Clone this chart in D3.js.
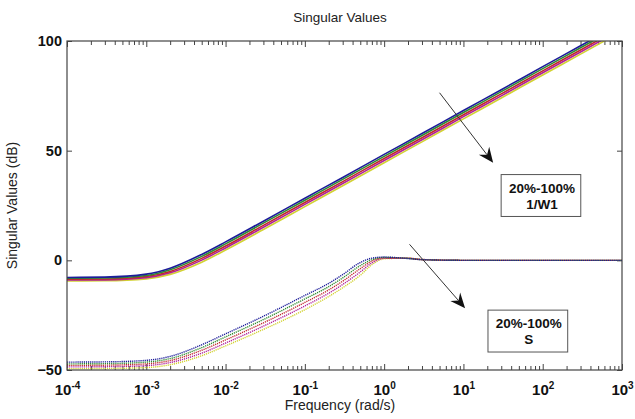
<!DOCTYPE html>
<html>
<head>
<meta charset="utf-8">
<script src="https://cdn.jsdelivr.net/npm/d3@7"></script>
<style>
  body { margin: 0; background: #fff; }
  svg { font-family: Arial, "Liberation Sans", sans-serif; }
</style>
</head>
<body>
<div id="chart"></div>
<script>
var freqW = [1e-4, 3e-4, 1e-3, 2e-3, 5e-3, 1e-2, 3e-2, 0.1, 0.3, 1, 3, 10, 30, 100, 300, 1000];
var freqS = [1e-4, 3e-4, 1e-3, 2e-3, 5e-3, 1e-2, 3e-2, 0.1, 0.2, 0.3, 0.5, 0.7, 1, 2, 3, 10, 100, 1000];

// 1/W1 curves (dB), 20% .. 100%
var w1Blue    = [-7.8, -7.65, -6.3, -3.6, 2.7, 8.4, 17.85, 28.3, 37.8, 48.3, 57.8, 68.3, 77.8, 88.3, 97.8, 108.3];
var w1Green   = [-8.2, -8.05, -6.9, -4.3, 1.8, 7.5, 16.95, 27.4, 36.9, 47.4, 56.9, 67.4, 76.9, 87.4, 96.9, 107.4];
var w1Red     = [-8.6, -8.5, -7.4, -5.05, 0.9, 6.5, 15.95, 26.4, 35.9, 46.4, 55.9, 66.4, 75.9, 86.4, 95.9, 106.4];
var w1Magenta = [-9.0, -8.9, -7.9, -5.7, 0.1, 5.65, 15.05, 25.5, 35.0, 45.5, 55.0, 65.5, 75.0, 85.5, 95.0, 105.5];
var w1Yellow  = [-9.4, -9.3, -8.45, -6.4, -0.85, 4.7, 14.05, 24.5, 34.0, 44.5, 54.0, 64.5, 74.0, 84.5, 94.0, 104.5];

// S curves (dB), 20% .. 100%
var sBlue    = [-46.4, -46.3, -45.6, -43.8, -38.5, -33.5, -25.5, -16.0, -10.5, -6.5, -1.0, 1.0, 1.5, 0.8, 0.3, 0, 0, 0];
var sGreen   = [-47.2, -47.1, -46.4, -44.8, -39.8, -34.9, -27.0, -17.6, -12.0, -8.0, -2.4, 0.3, 1.3, 0.9, 0.3, 0, 0, 0];
var sRed     = [-47.9, -47.8, -47.2, -45.7, -41.0, -36.3, -28.5, -19.2, -13.5, -9.5, -3.8, -0.4, 1.1, 0.9, 0.3, 0, 0, 0];
var sMagenta = [-48.6, -48.5, -48.0, -46.6, -42.3, -37.7, -30.0, -20.8, -15.0, -11.0, -5.3, -1.2, 0.9, 1.0, 0.4, 0, 0, 0];
var sYellow  = [-49.4, -49.3, -48.9, -47.6, -43.5, -39.0, -31.5, -22.5, -16.5, -12.5, -6.8, -2.0, 0.7, 1.0, 0.4, 0, 0, 0];

var lineColors = ["#1c1c9a", "#2e8b2e", "#c0282c", "#b0209a", "#d2d232"];

var xDecades = [1e-4, 1e-3, 1e-2, 1e-1, 1, 10, 100, 1000];
var yTicks = [-50, 0, 50, 100];

// annotations in data units: [freq, dB]
var arrowStarts = [[5.0, 76.4], [2.09, 7.3]];
var arrowEnds   = [[23.7, 44.5], [10.5, -21.8]];
var boxCorners  = [[[29.9, 39.1], [302, 20]], [[20.4, -22.7], [206.6, -41.8]]];
var boxLabels   = [["20%-100%", "1/W1"], ["20%-100%", "S"]];

var width = 635, height = 419;
var margin = {left: 67, right: 13, top: 41, bottom: 49};

var svg = d3.select("#chart").append("svg")
  .attr("width", width)
  .attr("height", height);

var x = d3.scaleLog().domain([1e-4, 1e3]).range([margin.left, width - margin.right]);
var y = d3.scaleLinear().domain([-50, 100]).range([height - margin.bottom, margin.top]);

svg.append("defs").append("clipPath").attr("id", "plotclip")
  .append("rect")
    .attr("x", x.range()[0]).attr("y", y.range()[1])
    .attr("width", x.range()[1] - x.range()[0])
    .attr("height", y.range()[0] - y.range()[1]);

// title and axis labels
svg.append("text")
  .attr("x", 340).attr("y", 22)
  .attr("text-anchor", "middle")
  .attr("font-size", "13.5px")
  .attr("fill", "#222")
  .text("Singular Values");

svg.append("text")
  .attr("x", 340).attr("y", 410)
  .attr("text-anchor", "middle")
  .attr("font-size", "14px")
  .attr("fill", "#222")
  .text("Frequency (rad/s)");

svg.append("text")
  .attr("transform", "translate(17," + ((y(-50) + y(100)) / 2) + ") rotate(-90)")
  .attr("text-anchor", "middle")
  .attr("font-size", "14px")
  .attr("fill", "#222")
  .text("Singular Values (dB)");

// minor log ticks
var minorTicks = [];
xDecades.slice(0, -1).forEach(function(d) {
  for (var k = 2; k <= 9; k++) minorTicks.push(k * d);
});

function drawXAxis(axisFn, yPos, size) {
  var g = svg.append("g")
    .attr("transform", "translate(0," + yPos + ")")
    .call(axisFn(x).tickValues(minorTicks).tickSize(size).tickFormat(""));
  g.select(".domain").remove();
  g.selectAll("line").attr("stroke", "#444");
  return g;
}

drawXAxis(d3.axisBottom, y(-50), -4);
drawXAxis(d3.axisTop, y(100), -4);

var xAxisG = svg.append("g")
  .attr("transform", "translate(0," + y(-50) + ")")
  .call(d3.axisBottom(x).tickValues(xDecades).tickSizeInner(-6).tickSizeOuter(0).tickPadding(14)
    .tickFormat(function(d) { return ""; }));
xAxisG.select(".domain").remove();
xAxisG.selectAll("line").attr("stroke", "#444");
xAxisG.selectAll(".tick text").each(function(d) {
  var t = d3.select(this)
    .attr("font-size", "15px")
    .attr("font-weight", "bold")
    .attr("fill", "#111");
  t.append("tspan").text("10");
  t.append("tspan").attr("dy", "-0.55em").attr("font-size", "10px").text(Math.round(Math.log10(d)));
});

var xTopG = svg.append("g")
  .attr("transform", "translate(0," + y(100) + ")")
  .call(d3.axisTop(x).tickValues(xDecades).tickSizeInner(-6).tickSizeOuter(0).tickFormat(""));
xTopG.select(".domain").remove();
xTopG.selectAll("line").attr("stroke", "#444");

var yAxisG = svg.append("g")
  .attr("transform", "translate(" + x(1e-4) + ",0)")
  .call(d3.axisLeft(y).tickValues(yTicks).tickSizeInner(-5).tickSizeOuter(0).tickPadding(5));
yAxisG.select(".domain").remove();
yAxisG.selectAll("line").attr("stroke", "#444");
yAxisG.selectAll("text")
  .attr("font-size", "14.5px")
  .attr("font-weight", "bold")
  .attr("fill", "#111")
  .attr("font-family", "Arial, 'Liberation Sans', sans-serif");

var yRightG = svg.append("g")
  .attr("transform", "translate(" + x(1e3) + ",0)")
  .call(d3.axisRight(y).tickValues(yTicks).tickSizeInner(-5).tickSizeOuter(0).tickFormat(""));
yRightG.select(".domain").remove();
yRightG.selectAll("line").attr("stroke", "#444");

// curves
var line = d3.line()
  .x(function(d) { return x(d[0]); })
  .y(function(d) { return y(d[1]); })
  .curve(d3.curveMonotoneX);

var plot = svg.append("g").attr("clip-path", "url(#plotclip)");

var w1Series = [w1Blue, w1Green, w1Red, w1Magenta, w1Yellow];
var sSeries = [sBlue, sGreen, sRed, sMagenta, sYellow];

w1Series.slice().reverse().forEach(function(vals, i) {
  var c = lineColors[w1Series.length - 1 - i];
  plot.append("path")
    .datum(freqW.map(function(f, j) { return [f, vals[j]]; }))
    .attr("d", line)
    .attr("fill", "none")
    .attr("stroke", c)
    .attr("stroke-width", 1.6);
});

sSeries.slice().reverse().forEach(function(vals, i) {
  var c = lineColors[sSeries.length - 1 - i];
  plot.append("path")
    .datum(freqS.map(function(f, j) { return [f, vals[j]]; }))
    .attr("d", line)
    .attr("fill", "none")
    .attr("stroke", c)
    .attr("stroke-width", 1.4)
    .attr("stroke-dasharray", "1.2,0.9");
});

// frame
svg.append("rect")
  .attr("x", x(1e-4)).attr("y", y(100))
  .attr("width", x(1e3) - x(1e-4))
  .attr("height", y(-50) - y(100))
  .attr("fill", "none")
  .attr("stroke", "#444")
  .attr("stroke-width", 1.2);

// arrows
arrowStarts.forEach(function(s, i) {
  var e = arrowEnds[i];
  var x1 = x(s[0]), y1 = y(s[1]), x2 = x(e[0]), y2 = y(e[1]);
  var ang = Math.atan2(y2 - y1, x2 - x1);
  var len = 15, half = 6.5, back = 10;
  var ux = Math.cos(ang), uy = Math.sin(ang);
  var px = -uy, py = ux;
  svg.append("line")
    .attr("x1", x1).attr("y1", y1)
    .attr("x2", x2 - ux * back).attr("y2", y2 - uy * back)
    .attr("stroke", "#333").attr("stroke-width", 1);
  var pts = [
    [x2, y2],
    [x2 - ux * len + px * half, y2 - uy * len + py * half],
    [x2 - ux * back, y2 - uy * back],
    [x2 - ux * len - px * half, y2 - uy * len - py * half]
  ];
  svg.append("path")
    .attr("d", "M" + pts.map(function(p) { return p.join(","); }).join("L") + "Z")
    .attr("fill", "#111");
});

// text boxes
boxCorners.forEach(function(b, i) {
  var bx = x(b[0][0]), by = y(b[0][1]);
  var bw = x(b[1][0]) - bx, bh = y(b[1][1]) - by;
  svg.append("rect")
    .attr("x", bx).attr("y", by)
    .attr("width", bw).attr("height", bh)
    .attr("fill", "#fff")
    .attr("stroke", "#555")
    .attr("stroke-width", 1);
  boxLabels[i].forEach(function(txt, k) {
    svg.append("text")
      .attr("x", bx + bw / 2 + 1)
      .attr("y", by + 18 + k * 16)
      .attr("text-anchor", "middle")
      .attr("font-size", "13.5px")
      .attr("font-weight", "bold")
      .attr("fill", "#111")
      .text(txt);
  });
});
</script>
</body>
</html>
